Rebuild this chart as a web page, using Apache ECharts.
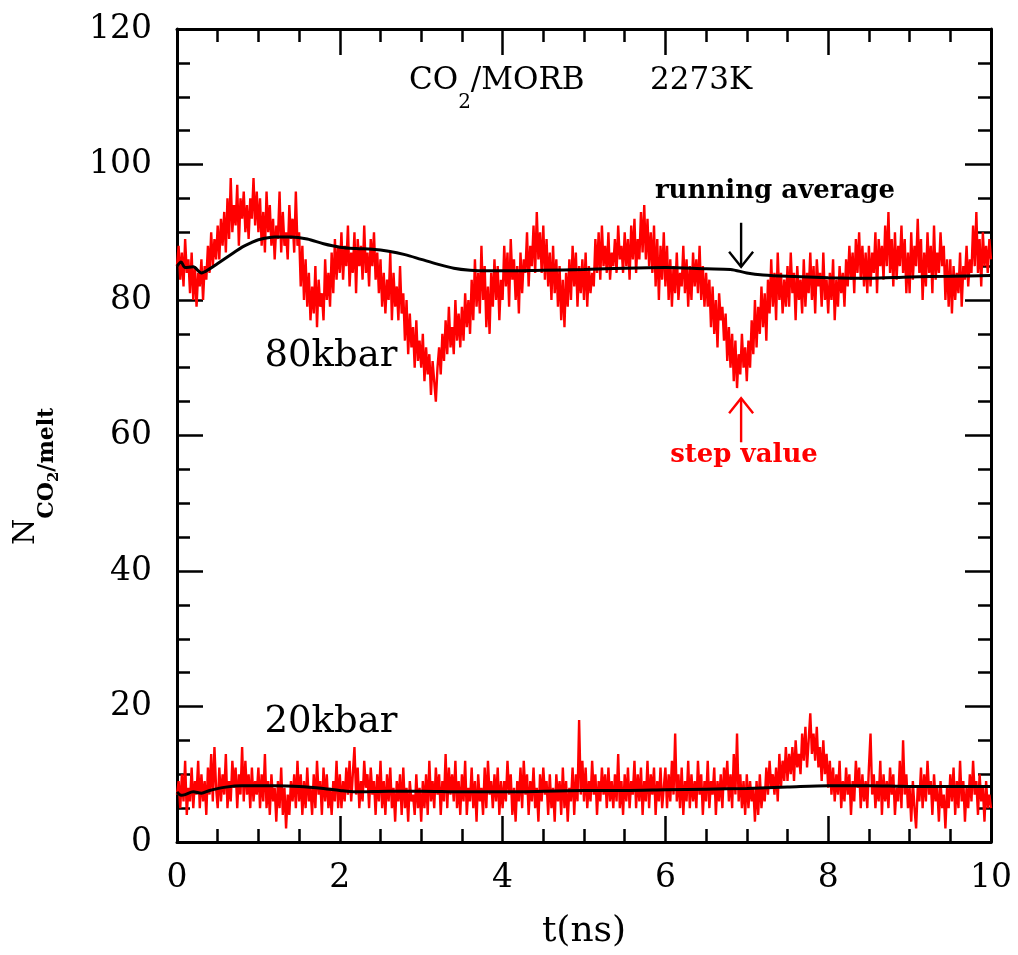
<!DOCTYPE html>
<html><head><meta charset="utf-8">
<script src="https://cdn.jsdelivr.net/npm/echarts/dist/echarts.min.js"></script>
<style>html,body{margin:0;padding:0;background:#fff}#c{width:1018px;height:955px}</style>
</head><body><div id="c"></div>
<script>
// ---- data ----
const xTicks = [0, 2, 4, 6, 8, 10];
const yTicks = [0, 20, 40, 60, 80, 100, 120];
const stepDt = 0.02; // ns between plotted step samples (t = 0 ... 10)

// 80 kbar step values, one row per 0.5 ns
const step80 = [
 85,88,83,87,82,89,84,86,81,87,80,85,79,84,82,86,80,85,83,88,84,90,85,89,86,
 91,86,92,88,93,87,95,89,98,90,94,91,97,88,95,92,96,90,94,89,95,92,98,91,96,
 90,95,88,93,87,96,90,94,88,92,86,91,89,96,87,93,88,90,86,94,89,92,87,96,88,
 90,82,88,80,86,79,84,77,82,78,85,76,83,79,81,77,86,80,84,79,87,81,89,83,88,
 84,90,83,88,85,91,82,87,84,90,81,89,85,88,83,91,84,87,82,89,85,90,83,87,81,
 86,79,84,78,83,80,87,77,84,79,82,77,85,78,81,74,80,72,78,73,76,70,77,71,74,
 70,75,68,73,69,72,66,71,68,65,70,73,69,75,71,77,72,79,73,76,72,80,74,78,73,
 79,74,81,76,80,75,83,77,86,79,84,78,88,80,85,76,82,75,84,79,86,80,85,77,83,
 80,88,82,87,79,89,83,86,80,85,78,87,81,86,84,90,82,88,85,91,84,93,86,90,84,
 91,83,89,82,87,80,88,81,86,79,85,77,83,76,84,79,86,80,88,82,87,79,85,81,86,
 80,87,79,85,81,84,82,89,84,90,83,91,85,88,84,90,83,87,85,89,84,91,86,88,84,
 90,85,89,83,91,86,92,84,89,86,93,87,94,86,92,85,90,84,91,82,89,80,88,83,90,
 82,88,80,86,79,85,81,87,80,84,82,88,81,86,79,85,80,87,82,86,81,88,80,85,79,
 84,79,83,76,82,75,80,73,81,77,79,74,78,71,76,70,75,68,74,67,72,69,75,70,73,
 68,74,70,77,72,80,73,79,75,82,76,81,74,83,78,86,79,84,77,87,80,84,78,83,79,
 85,79,87,81,84,77,85,80,83,78,86,79,84,81,87,80,85,78,86,82,84,79,87,80,83,
 78,84,80,86,77,83,79,85,81,84,79,86,82,88,83,87,81,89,84,90,83,88,82,87,81,
 88,82,87,84,90,81,89,85,88,83,91,85,93,84,89,82,90,83,88,85,91,84,89,81,87,
 81,90,83,88,85,92,84,89,80,87,82,90,84,88,81,91,83,87,84,90,85,88,80,86,79,
 86,78,85,80,84,81,87,79,85,83,88,82,86,84,91,85,93,84,89,82,90,85,88,84,89,
 86
];
// 20 kbar step values, one row per 0.5 ns
const step20 = [
 7,9,5,10,6,12,4,8,6,11,5,9,7,12,5,10,6,9,4,11,7,13,6,14,8,
 5,11,6,10,7,13,5,9,6,12,8,11,5,10,7,14,6,12,7,10,5,11,6,9,7,
 11,5,10,6,13,5,9,4,10,6,8,3,9,5,11,4,8,2,7,4,9,6,10,5,12,
 6,10,4,9,5,11,6,8,4,10,5,12,7,9,4,11,6,10,5,8,4,9,6,12,5,
 10,5,9,6,11,7,12,6,10,14,7,11,5,9,6,12,8,10,5,11,7,9,4,10,6,
 12,5,9,4,10,6,11,5,8,3,9,6,10,4,11,5,8,3,9,6,7,4,10,5,8,
 3,9,5,10,4,12,6,9,5,11,7,10,4,9,6,13,5,11,7,10,6,12,5,9,4,
 10,6,12,4,8,6,11,5,9,3,10,6,8,4,11,5,12,7,9,5,10,6,11,4,9,
 5,9,6,12,7,10,4,8,3,9,6,11,5,12,7,10,4,9,6,11,5,8,3,10,6,
 11,7,9,4,10,5,8,3,10,6,9,4,11,5,9,3,8,6,11,4,10,6,18,7,12,
 6,11,5,9,6,12,7,10,4,9,6,11,7,10,5,11,6,9,5,10,6,13,5,9,4,
 10,6,11,5,9,7,12,5,10,6,11,4,9,6,12,5,10,7,11,4,9,6,11,5,8,
 11,5,10,6,12,7,16,6,10,5,11,4,9,6,12,5,10,6,9,5,12,7,10,4,9,
 6,12,5,9,7,11,4,9,6,10,5,11,8,12,6,10,5,13,7,16,6,10,5,9,4,
 10,5,9,6,8,3,9,4,10,5,8,6,11,7,12,8,10,7,11,6,13,8,12,9,14,
 9,13,10,14,9,15,11,13,10,16,12,17,11,15,19,13,16,12,17,11,14,9,15,10,13,
 8,12,7,11,6,10,7,12,5,9,6,11,7,10,4,9,6,12,8,11,5,10,6,9,5,
 11,16,7,10,5,9,6,12,4,10,6,9,5,11,7,10,4,8,6,12,5,15,7,10,5,
 8,3,9,5,2,8,6,11,5,10,6,12,7,9,4,10,6,8,3,9,5,7,2,8,5,
 10,6,11,4,9,5,12,6,9,3,8,5,10,6,12,7,9,4,10,6,8,3,9,5,7,
 5
];
// running averages
const avg80T = [0,0.05,0.1,0.2,0.3,0.4,0.5,0.6,0.7,0.8,0.9,1.0,1.2,1.4,1.6,1.8,2.0,2.2,2.4,2.6,2.8,3.0,3.2,3.4,3.6,3.8,4.0,4.5,5.0,5.5,6.0,6.5,6.8,7.0,7.2,7.5,8.0,8.5,9.0,9.5,10.0];
const avg80  = [85,85.6,84.8,84.9,84.0,84.6,85.4,86.2,87.0,87.8,88.4,88.9,89.3,89.3,89.0,88.3,87.8,87.6,87.5,87.2,86.7,86.0,85.3,84.7,84.4,84.3,84.3,84.4,84.5,84.7,84.8,84.6,84.5,84.0,83.7,83.5,83.3,83.2,83.4,83.5,83.6];
const avg20T = [0,0.05,0.1,0.2,0.3,0.4,0.6,0.8,1.0,1.2,1.5,1.8,2.0,2.2,2.6,3.0,3.5,4.0,5.0,5.5,6.0,6.5,7.0,7.5,8.0,8.5,9.0,9.5,10.0];
const avg20  = [7.4,6.9,7.0,7.4,7.2,7.6,8.1,8.3,8.3,8.3,8.2,7.9,7.6,7.4,7.5,7.5,7.4,7.4,7.6,7.6,7.7,7.8,7.9,8.1,8.3,8.3,8.2,8.2,8.2];

// ---- build ----
const pairs = (vals) => vals.map((v, i) => [+(i * stepDt).toFixed(2), v]);
const zip = (ts, vs) => ts.map((t, i) => [t, vs[i]]);

const SERIF = '"DejaVu Serif", serif';
const chart = echarts.init(document.getElementById('c'), null, {renderer: 'canvas'});

function axisCommon(showLabel, margin, extra) {
  return Object.assign({
    type: 'value',
    axisLine: {show: true, onZero: false, lineStyle: {color: '#000', width: 3}},
    axisTick: {show: true, inside: true, length: 26, lineStyle: {color: '#000', width: 2.5}},
    minorTick: {show: true, splitNumber: 4, length: 13, lineStyle: {color: '#000', width: 2.5}},
    splitLine: {show: false},
    minorSplitLine: {show: false},
    axisLabel: {show: showLabel, margin: margin, fontSize: 33, fontFamily: SERIF, color: '#000',
      showMinLabel: true, showMaxLabel: true, hideOverlap: false}
  }, extra);
}

const xOpt = {min: xTicks[0], max: xTicks[xTicks.length - 1], interval: xTicks[1] - xTicks[0]};
const yOpt = {min: yTicks[0], max: yTicks[yTicks.length - 1], interval: yTicks[1] - yTicks[0]};

const option = {
  animation: false,
  backgroundColor: '#fff',
  grid: {left: 177, top: 29, right: 27, bottom: 113, containLabel: false, outerBoundsMode: 'none'},
  xAxis: [
    axisCommon(true, 20, Object.assign({position: 'bottom',
      name: 't(ns)', nameLocation: 'middle', nameGap: 72,
      nameTextStyle: {fontSize: 36, fontFamily: SERIF, color: '#000'}}, xOpt)),
    axisCommon(false, 8, Object.assign({position: 'top'}, xOpt))
  ],
  yAxis: [
    axisCommon(true, 25, Object.assign({position: 'left'}, yOpt)),
    axisCommon(false, 8, Object.assign({position: 'right'}, yOpt))
  ],
  series: [
    {type: 'line', name: '80kbar step', data: pairs(step80), showSymbol: false, symbol: 'none', sampling: null,
      lineStyle: {color: '#ff0000', width: 2.4}, z: 2},
    {type: 'line', name: '20kbar step', data: pairs(step20), showSymbol: false, symbol: 'none', sampling: null,
      lineStyle: {color: '#ff0000', width: 2.4}, z: 2},
    {type: 'line', name: '80kbar avg', data: zip(avg80T, avg80), showSymbol: false, symbol: 'none', smooth: 0.3,
      lineStyle: {color: '#000', width: 3}, z: 3},
    {type: 'line', name: '20kbar avg', data: zip(avg20T, avg20), showSymbol: false, symbol: 'none', smooth: 0.3,
      lineStyle: {color: '#000', width: 3}, z: 3}
  ]
};
chart.setOption(option);

// ---- annotations ----
const mctx = document.createElement('canvas').getContext('2d');
function tw(text, font) { mctx.font = font; return mctx.measureText(text).width; }
function txt(text, x, y, font, color, rot) {
  return {type: 'text', x: x, y: y, rotation: rot || 0, z: 100,
    style: {text: text, font: font, fill: color || '#000',
      align: 'center', verticalAlign: 'middle', textAlign: 'center', textVerticalAlign: 'middle'}};
}
const g = [];

// title: CO2/MORB  2273K
const fT = '31px ' + SERIF, fTs = '20px ' + SERIF;
const wCO = tw('CO', fT), w2 = tw('2', fTs), wM = tw('/MORB', fT), wK = tw('2273K', fT);
let tx = 409;
g.push(txt('CO', tx + wCO / 2, 81, fT, '#000')); tx += wCO;
g.push(txt('2', tx + w2 / 2, 103, fTs, '#000')); tx += w2;
g.push(txt('/MORB', tx + wM / 2, 81, fT, '#000'));
g.push(txt('2273K', 650 + wK / 2, 81, fT, '#000'));

// y-axis title, rotated: N_{CO2/melt}
const yParts = [['N', '30px ' + SERIF, 26], ['CO', 'bold 22px ' + SERIF, 47], ['2', 'bold 15px ' + SERIF, 54], ['/melt', 'bold 22px ' + SERIF, 47]];
let sy = 545;
yParts.forEach(p => {
  const w = tw(p[0], p[1]);
  g.push(txt(p[0], p[2], sy - w / 2, p[1], '#000', Math.PI / 2));
  sy -= w;
});

g.push(txt('80kbar', 331, 356, '37px ' + SERIF, '#000'));
g.push(txt('20kbar', 331, 722, '37px ' + SERIF, '#000'));
g.push(txt('running average', 775, 191, 'bold 26px ' + SERIF, '#000'));
g.push(txt('step value', 744, 455, 'bold 26px ' + SERIF, '#ff0000'));

// arrows anchored in data space
const arrowT = 6.93;
function arrow(fromV, toV, color) {
  const a = chart.convertToPixel({xAxisIndex: 0, yAxisIndex: 0}, [arrowT, fromV]);
  const b = chart.convertToPixel({xAxisIndex: 0, yAxisIndex: 0}, [arrowT, toV]);
  const dir = b[1] > a[1] ? 1 : -1;
  g.push({type: 'polyline', z: 100, shape: {points: [a, b]}, style: {stroke: color, lineWidth: 2.4, fill: null}});
  g.push({type: 'polyline', z: 100, shape: {points: [[b[0] - 12, b[1] - dir * 15], b, [b[0] + 12, b[1] - dir * 15]]},
    style: {stroke: color, lineWidth: 2.4, fill: null}});
}
arrow(91.4, 84.9, '#000');
arrow(59.0, 65.5, '#ff0000');

chart.setOption({graphic: g});
</script>
</body></html>
